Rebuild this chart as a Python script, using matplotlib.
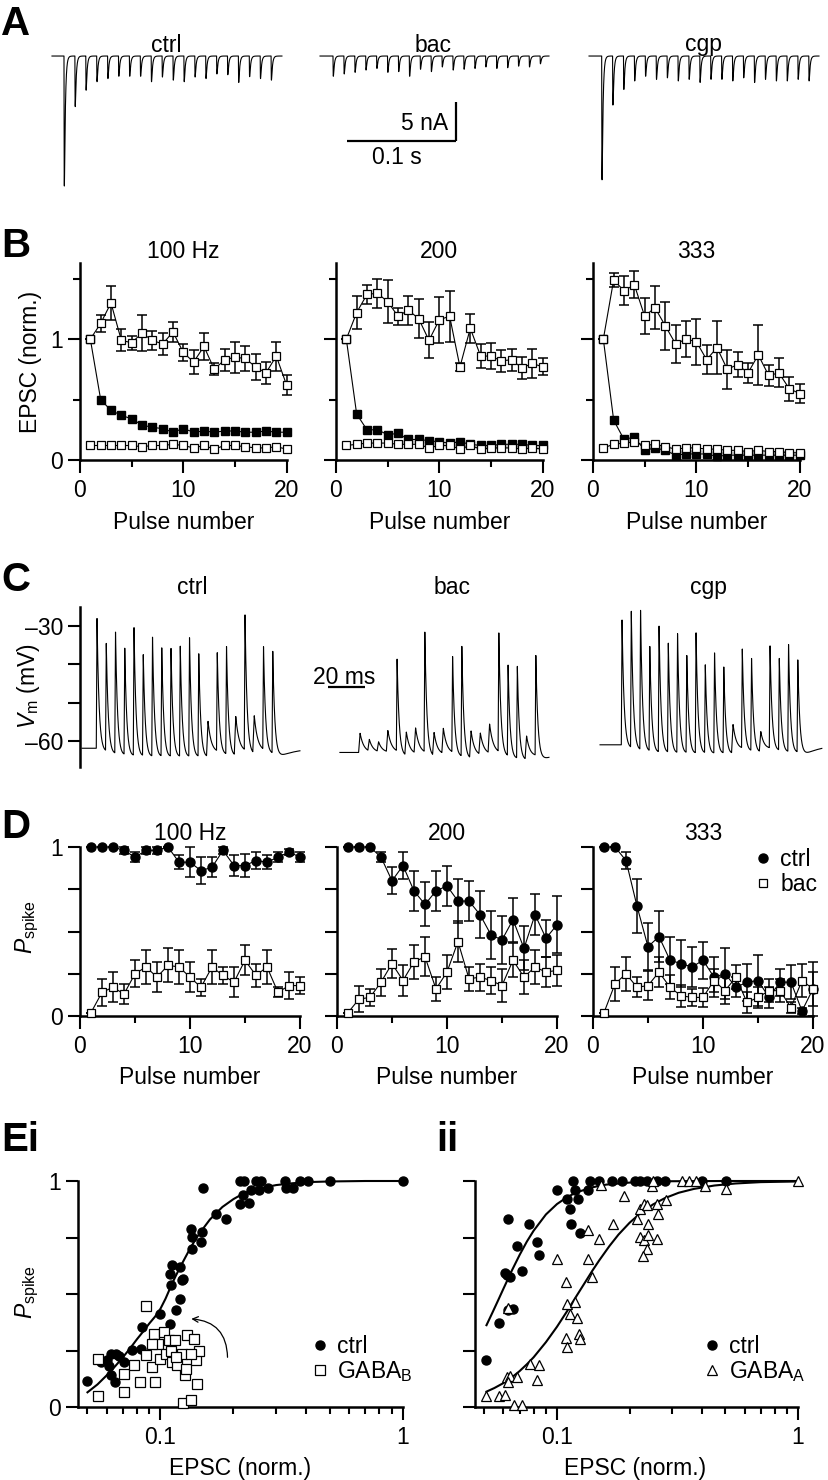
import numpy as np
import matplotlib
matplotlib.use('Agg')
import matplotlib.pyplot as plt
from matplotlib.lines import Line2D
from matplotlib.ticker import NullFormatter

W, H = 829, 1480
FS = 16.5
plt.rcParams['font.family'] = ['Liberation Sans', 'DejaVu Sans']
plt.rcParams['mathtext.fontset'] = 'custom'
plt.rcParams['mathtext.rm'] = 'Liberation Sans'
plt.rcParams['mathtext.it'] = 'Liberation Sans:italic'
plt.rcParams['font.size'] = FS

# ---------------- data ----------------
PULSES = np.arange(1, 21)

# A: EPSC peak amplitudes (nA)
A_CTRL = [16.7, 6.5, 4.4, 3.3, 2.9, 2.6, 2.6, 2.6, 3.3, 2.7, 3.1, 3.3, 2.7, 2.9, 2.3, 2.4, 3.4, 2.65, 2.9, 3.1]
A_BAC = [2.6, 2.3, 2.1, 1.8, 1.6, 2.1, 2.0, 2.6, 1.7, 2.0, 1.4, 1.8, 1.7, 1.6, 1.4, 1.6, 1.5, 1.3, 1.4, 1.0]
A_CGP = [15.9, 6.3, 4.3, 3.2, 2.6, 3.0, 2.8, 3.2, 3.0, 3.4, 3.0, 3.0, 3.2, 2.8, 3.4, 3.0, 3.2, 3.2, 3.0, 3.2]
A_TITLES = ['ctrl', 'bac', 'cgp']

# B: normalised EPSC
B_TITLES = ['100 Hz', '200', '333']
B100_UP = [1.00, 1.13, 1.30, 0.99, 0.97, 1.05, 0.99, 0.96, 1.06, 0.89, 0.81, 0.94, 0.75, 0.83, 0.85, 0.84, 0.77, 0.72, 0.86, 0.62]
B100_UP_ERR = [0, 0.07, 0.14, 0.09, 0.06, 0.15, 0.08, 0.09, 0.08, 0.07, 0.10, 0.11, 0.05, 0.09, 0.13, 0.10, 0.11, 0.09, 0.12, 0.08]
B100_FILL = [1.0, 0.50, 0.41, 0.37, 0.34, 0.29, 0.27, 0.26, 0.23, 0.26, 0.23, 0.24, 0.23, 0.24, 0.24, 0.23, 0.23, 0.24, 0.23, 0.23]
B100_LOW = [0.12, 0.12, 0.12, 0.12, 0.12, 0.11, 0.12, 0.12, 0.13, 0.12, 0.10, 0.12, 0.09, 0.12, 0.12, 0.11, 0.10, 0.10, 0.11, 0.09]
B200_UP = [1.00, 1.22, 1.37, 1.38, 1.31, 1.19, 1.24, 1.17, 0.99, 1.16, 1.19, 0.77, 1.09, 0.86, 0.86, 0.82, 0.83, 0.76, 0.80, 0.77]
B200_UP_ERR = [0, 0.14, 0.08, 0.12, 0.18, 0.07, 0.12, 0.16, 0.15, 0.19, 0.21, 0.03, 0.12, 0.10, 0.11, 0.09, 0.09, 0.09, 0.12, 0.07]
B200_FILL = [1.0, 0.38, 0.25, 0.25, 0.21, 0.22, 0.17, 0.17, 0.16, 0.15, 0.14, 0.15, 0.13, 0.12, 0.12, 0.13, 0.13, 0.13, 0.12, 0.12]
B200_LOW = [0.12, 0.13, 0.14, 0.14, 0.14, 0.13, 0.13, 0.13, 0.10, 0.12, 0.12, 0.09, 0.12, 0.09, 0.10, 0.10, 0.10, 0.09, 0.10, 0.09]
B333_UP = [1.00, 1.49, 1.40, 1.45, 1.19, 1.26, 1.11, 0.96, 1.00, 0.98, 0.83, 0.93, 0.75, 0.79, 0.72, 0.87, 0.70, 0.72, 0.59, 0.55]
B333_UP_ERR = [0, 0.06, 0.12, 0.11, 0.15, 0.18, 0.20, 0.16, 0.15, 0.19, 0.12, 0.22, 0.16, 0.10, 0.08, 0.25, 0.09, 0.12, 0.10, 0.08]
B333_FILL = [1.0, 0.33, 0.17, 0.19, 0.08, 0.10, 0.08, 0.04, 0.05, 0.05, 0.05, 0.03, 0.04, 0.04, 0.04, 0.04, 0.04, 0.04, 0.04, 0.04]
B333_LOW = [0.10, 0.13, 0.14, 0.15, 0.12, 0.13, 0.11, 0.09, 0.10, 0.10, 0.09, 0.09, 0.08, 0.08, 0.07, 0.08, 0.07, 0.07, 0.06, 0.06]

# C: membrane potential peaks per stimulus (mV)
C_CTRL = [-28.0, -33.9, -30.3, -34.2, -28.6, -35.6, -30.9, -33.7, -33.8, -33.2, -31.0, -35.2, -52.8, -36.3, -33.9, -51.9, -26.7, -52.2, -35.2, -35.4]
C_BAC = [-58.0, -60.0, -60.5, -57.5, -39.1, -57.0, -56.5, -31.8, -57.0, -56.5, -38.1, -34.4, -56.0, -57.5, -55.5, -32.1, -39.4, -39.1, -57.0, -37.0]
C_CGP = [-28.4, -25.5, -24.7, -33.8, -28.2, -32.6, -30.0, -35.7, -29.7, -38.1, -34.9, -38.6, -53.6, -35.2, -37.0, -55.8, -34.4, -37.1, -33.1, -37.0]
C_REST = [-61.9, -63.0, -61.0]

# D: spike probability
D_TITLES = ['100 Hz', '200', '333']
D100_CTRL = [1, 1, 1, 0.98, 0.94, 0.98, 0.98, 1.0, 0.91, 0.91, 0.86, 0.88, 0.98, 0.89, 0.89, 0.92, 0.91, 0.94, 0.97, 0.94]
D100_CTRL_ERR = [0, 0, 0, 0.02, 0.03, 0.02, 0.02, 0, 0.04, 0.09, 0.08, 0.06, 0.02, 0.06, 0.07, 0.05, 0.04, 0.03, 0.02, 0.03]
D100_BAC = [0.02, 0.14, 0.17, 0.13, 0.25, 0.29, 0.23, 0.30, 0.29, 0.23, 0.17, 0.29, 0.24, 0.20, 0.33, 0.24, 0.29, 0.14, 0.18, 0.18]
D100_BAC_ERR = [0, 0.08, 0.09, 0.06, 0.08, 0.10, 0.09, 0.10, 0.10, 0.09, 0.05, 0.10, 0.05, 0.09, 0.09, 0.07, 0.10, 0.03, 0.08, 0.05]
D200_CTRL = [1, 1, 1, 0.94, 0.80, 0.89, 0.74, 0.66, 0.74, 0.77, 0.68, 0.68, 0.60, 0.48, 0.45, 0.57, 0.40, 0.60, 0.46, 0.54]
D200_CTRL_ERR = [0, 0, 0, 0.03, 0.08, 0.08, 0.12, 0.13, 0.12, 0.12, 0.13, 0.12, 0.14, 0.14, 0.14, 0.13, 0.13, 0.12, 0.11, 0.17]
D200_BAC = [0.02, 0.10, 0.11, 0.20, 0.31, 0.21, 0.32, 0.35, 0.16, 0.26, 0.44, 0.22, 0.23, 0.21, 0.18, 0.33, 0.23, 0.29, 0.26, 0.27]
D200_BAC_ERR = [0, 0.075, 0.05, 0.08, 0.085, 0.09, 0.10, 0.115, 0.07, 0.10, 0.12, 0.07, 0.08, 0.08, 0.10, 0.10, 0.10, 0.10, 0.09, 0.09]
D333_CTRL = [1, 1, 0.92, 0.65, 0.41, 0.47, 0.33, 0.31, 0.29, 0.33, 0.23, 0.25, 0.17, 0.20, 0.21, 0.11, 0.20, 0.20, 0.03, 0.16]
D333_CTRL_ERR = [0, 0, 0.05, 0.16, 0.14, 0.15, 0.14, 0.14, 0.12, 0.11, 0.12, 0.15, 0.06, 0.11, 0.15, 0.06, 0.08, 0.10, 0.02, 0.16]
D333_BAC = [0.02, 0.19, 0.25, 0.17, 0.18, 0.26, 0.17, 0.12, 0.11, 0.11, 0.21, 0.15, 0.23, 0.08, 0.11, 0.15, 0.15, 0.05, 0.21, 0.16]
D333_BAC_ERR = [0, 0.10, 0.10, 0.06, 0.085, 0.09, 0.07, 0.065, 0.05, 0.055, 0.07, 0.08, 0.07, 0.06, 0.06, 0.07, 0.07, 0.03, 0.10, 0.10]

# E: P_spike vs EPSC
EI_CTRL_X = [0.050, 0.057, 0.060, 0.0625, 0.0656, 0.0677, 0.0612, 0.0625, 0.0652, 0.071, 0.0764, 0.083, 0.084, 0.0997,
             0.109, 0.116, 0.111, 0.120, 0.123, 0.109, 0.112, 0.120, 0.124, 0.135, 0.135, 0.133, 0.147, 0.148, 0.150,
             0.170, 0.186, 0.213, 0.232, 0.219, 0.222, 0.247, 0.256, 0.237, 0.278, 0.325, 0.352, 0.375, 0.406, 0.50,
             1.0, 0.212, 0.260, 0.330]
EI_CTRL_Y = [0.115, 0.20, 0.206, 0.233, 0.233, 0.224, 0.18, 0.14, 0.11, 0.20, 0.254, 0.258, 0.354, 0.413,
             0.369, 0.431, 0.538, 0.479, 0.560, 0.590, 0.627, 0.619, 0.568, 0.70, 0.752, 0.789, 0.730, 0.774, 0.970,
             0.855, 0.833, 0.90, 0.903, 0.937, 1.0, 1.0, 0.959, 0.959, 0.970, 1.0, 0.970, 1.0, 1.0, 1.0,
             1.0, 1.0, 1.0, 0.97]
EI_GABAB_X = [0.087, 0.0551, 0.0551, 0.071, 0.071, 0.078, 0.082, 0.087, 0.092, 0.094, 0.095, 0.098, 0.0997, 0.103,
              0.105, 0.108, 0.111, 0.112, 0.115, 0.117, 0.123, 0.124, 0.126, 0.127, 0.129, 0.133, 0.137, 0.140,
              0.141, 0.144, 0.133, 0.092, 0.116]
EI_GABAB_Y = [0.445, 0.214, 0.05, 0.066, 0.147, 0.184, 0.11, 0.228, 0.177, 0.324, 0.11, 0.28, 0.214, 0.33,
              0.236, 0.295, 0.25, 0.20, 0.295, 0.184, 0.233, 0.018, 0.14, 0.17, 0.317, 0.032, 0.302, 0.206,
              0.10, 0.248, 0.236, 0.28, 0.221]
EI_FIT_X = [0.05, 0.055, 0.06, 0.065, 0.07, 0.075, 0.08, 0.085, 0.09, 0.095, 0.1, 0.105, 0.11, 0.115, 0.12, 0.13,
            0.14, 0.15, 0.16, 0.18, 0.2, 0.22, 0.25, 0.3, 0.35, 0.4, 0.5, 0.7, 1.0]
EI_FIT_Y = [0.065, 0.10, 0.14, 0.18, 0.22, 0.26, 0.30, 0.335, 0.37, 0.40, 0.435, 0.48, 0.53, 0.575, 0.615, 0.685,
            0.745, 0.79, 0.83, 0.885, 0.92, 0.945, 0.965, 0.982, 0.99, 0.995, 0.998, 1.0, 1.0]

EII_CTRL_X = [0.051, 0.0574, 0.0625, 0.061, 0.062, 0.064, 0.0625, 0.068, 0.0717, 0.0764, 0.083, 0.0839, 0.066,
              0.100, 0.110, 0.113, 0.114, 0.117, 0.119, 0.122, 0.125, 0.135, 0.137, 0.150, 0.169, 0.186, 0.211,
              0.221, 0.236, 0.259, 0.281, 0.40, 0.505]
EII_CTRL_Y = [0.206, 0.372, 0.428, 0.593, 0.583, 0.575, 0.833, 0.711, 0.602, 0.811, 0.73, 0.671, 0.435,
              0.959, 0.922, 0.878, 0.811, 1.0, 0.959, 0.922, 0.77, 0.959, 1.0, 1.0, 1.0, 1.0, 1.0,
              1.0, 1.0, 1.0, 1.0, 1.0, 1.0]
EII_GABAA_X = [0.051, 0.0574, 0.061, 0.0662, 0.0717, 0.0621, 0.064, 0.068, 0.0625, 0.0776, 0.084, 0.083, 0.0625,
               0.100, 0.109, 0.110, 0.113, 0.119, 0.121, 0.109, 0.110, 0.123, 0.125, 0.135, 0.135, 0.140, 0.150,
               0.171, 0.189, 0.153, 0.214, 0.221, 0.229, 0.236, 0.239, 0.220, 0.229, 0.239, 0.236, 0.227, 0.259,
               0.263, 0.261, 0.283, 0.249, 0.251, 0.329, 0.354, 0.379, 0.410, 0.505, 1.0]
EII_GABAA_Y = [0.047, 0.047, 0.052, 0.007, 0.007, 0.133, 0.136, 0.133, 0.11, 0.189, 0.184, 0.121, 0.438,
               0.656, 0.553, 0.454, 0.413, 0.465, 0.395, 0.307, 0.265, 0.324, 0.302, 0.785, 0.656, 0.575, 0.745,
               0.808, 0.932, 0.981, 0.833, 0.878, 0.90, 0.892, 0.811, 0.752, 0.737, 0.76, 0.70, 0.667, 0.745,
               0.855, 0.897, 0.917, 0.976, 1.0, 1.0, 1.0, 1.0, 0.976, 0.966, 1.0]
EII_CTRL_FIT_X = [0.051, 0.054, 0.057, 0.06, 0.065, 0.07, 0.075, 0.08, 0.09, 0.1, 0.11, 0.12, 0.14, 0.16, 0.2,
                  0.25, 0.3, 0.5, 1.0]
EII_CTRL_FIT_Y = [0.362, 0.418, 0.472, 0.524, 0.604, 0.673, 0.732, 0.78, 0.852, 0.898, 0.928, 0.949, 0.972,
                  0.984, 0.993, 0.997, 0.999, 1.0, 1.0]
EII_GABAA_FIT_X = [0.051, 0.055, 0.06, 0.065, 0.07, 0.075, 0.08, 0.09, 0.1, 0.11, 0.12, 0.13, 0.14, 0.15, 0.165,
                   0.18, 0.2, 0.22, 0.25, 0.28, 0.32, 0.37, 0.45, 0.55, 0.7, 1.0]
EII_GABAA_FIT_Y = [0.068, 0.084, 0.106, 0.131, 0.159, 0.189, 0.22, 0.287, 0.355, 0.423, 0.488, 0.547, 0.602,
                   0.65, 0.712, 0.763, 0.815, 0.854, 0.896, 0.924, 0.948, 0.965, 0.98, 0.989, 0.995, 0.998]

# ---------------- helpers ----------------
fig = plt.figure(figsize=(W / 100, H / 100), dpi=100)


def box(l, t, r, b):
    return [l / W, 1 - b / H, (r - l) / W, (b - t) / H]


def ftext(x, y, s, **kw):
    kw.setdefault('ha', 'center')
    kw.setdefault('va', 'center')
    fig.text(x / W, 1 - y / H, s, **kw)


def letter(x, y, s):
    fig.text(x / W, 1 - y / H, s, fontsize=29, fontweight='bold', ha='left', va='center')


def style(ax):
    for s in ['top', 'right']:
        ax.spines[s].set_visible(False)
    for s in ['left', 'bottom']:
        ax.spines[s].set_linewidth(1.8)
    ax.tick_params(which='major', direction='out', length=9, width=1.5, labelsize=FS)
    ax.tick_params(which='minor', direction='out', length=5, width=1.5)
    ax.tick_params(axis='x', pad=5)
    ax.tick_params(axis='y', pad=3)
    ax.patch.set_visible(False)


def epsc_trace(t0, t_first, t_end, amps, isi=10.0):
    t = np.arange(t0, t_end, 0.05)
    i = np.zeros_like(t)
    tr, td = 0.15, 0.9
    tp = tr * td / (td - tr) * np.log(td / tr)
    norm = np.exp(-tp / td) - np.exp(-tp / tr)
    for k, a in enumerate(amps):
        s = np.clip(t - (t_first + k * isi), 0, None)
        i -= a * (np.exp(-s / td) - np.exp(-s / tr)) / norm
    return t, i


def vm_trace(t0, t_first, t_end, peaks, rest, isi=5.0):
    t = np.arange(t0, t_end, 0.02)
    v = np.full_like(t, rest)
    for k, p in enumerate(peaks):
        s = t - (t_first + k * isi)
        spike = p > -50
        tau = 1.1 if spike else 2.0
        rise = 0.4 if spike else 0.8
        kern = np.where(s < -rise, 0.0,
                        np.where(s < 0, (s + rise) / rise, np.exp(-np.clip(s, 0, None) / tau)))
        v += (p - rest) * kern
        if spike:
            ss = np.clip(s, 0, None)
            v -= 1.8 * (np.exp(-ss / 9.0) - np.exp(-ss / 1.5))
    return t, v


# ---------------- A ----------------
axA = fig.add_axes(box(0, 20, 829, 195))
axA.set_xlim(0, W / 1.09)
axA.set_ylim(-17.82, 4.62)
axA.axis('off')
for (t0, tf, te), amps in zip([(47.7, 58.7, 258.7), (293.6, 305.5, 503.7), (540.4, 552.0, 751.4)],
                              [A_CTRL, A_BAC, A_CGP]):
    t, i = epsc_trace(t0, tf, te, amps)
    axA.plot(t, i, color='k', lw=0.8)
axA.plot([318.3, 418.3], [-10.9, -10.9], color='k', lw=1.6, solid_capstyle='butt')
axA.plot([418.3, 418.3], [-10.9, -5.9], color='k', lw=1.6, solid_capstyle='butt')
axA.text(411, -8.6, '5 nA', ha='right', va='center')
axA.text(364, -12.95, '0.1 s', ha='center', va='center')
for x, s in zip([166, 433, 704], A_TITLES):
    ftext(x, 45, s)
letter(1, 24, 'A')

# ---------------- B ----------------
letter(1, 246, 'B')
B_UP = [B100_UP, B200_UP, B333_UP]
B_UP_ERR = [B100_UP_ERR, B200_UP_ERR, B333_UP_ERR]
B_FILL = [B100_FILL, B200_FILL, B333_FILL]
B_LOW = [B100_LOW, B200_LOW, B333_LOW]
for j, l in enumerate([80, 336, 593]):
    ax = fig.add_axes(box(l, 263, l + 20.5 * 10.33, 460))
    style(ax)
    ax.set_xlim(0, 20.5)
    ax.set_ylim(0, 1.63)
    ax.spines['bottom'].set_bounds(0, 20)
    ax.set_xticks([0, 10, 20])
    ax.set_xticks([5, 15], minor=True)
    ax.set_yticks([0, 1])
    ax.set_yticks([0.5, 1.5], minor=True)
    if j == 0:
        ax.set_yticklabels(['0', '1'])
    else:
        ax.set_yticklabels([])
    ax.plot(PULSES, B_FILL[j], '-s', color='k', ms=6, lw=0.8, zorder=3, clip_on=False)
    ax.plot(PULSES, B_LOW[j], '-s', color='k', mfc='w', mew=0.9, ms=6, lw=0.8, zorder=4, clip_on=False)
    ax.errorbar(PULSES, B_UP[j], yerr=B_UP_ERR[j], fmt='none', ecolor='k', elinewidth=1.1,
                capsize=3.5, capthick=1.1, zorder=4.5)
    ax.plot(PULSES, B_UP[j], '-s', color='k', mfc='w', mew=0.9, ms=6, lw=0.8, zorder=5, clip_on=False)
    cx = l + 10 * 10.33
    ftext(cx, 252, B_TITLES[j])
    ftext(cx, 522, 'Pulse number')
ftext(31, 362, 'EPSC (norm.)', rotation=90)

# ---------------- C ----------------
letter(1, 580, 'C')
axC = fig.add_axes(box(80, 607, 829, 767))
style(axC)
axC.spines['bottom'].set_visible(False)
axC.set_xlim(0, 749 / 1.85)
axC.set_ylim(-66.8, -25.0)
axC.set_xticks([])
axC.set_yticks([-60, -50, -40, -30])
axC.set_yticklabels(['\u201360', '', '', '\u201330'])
for (t0, tf, te), peaks, rest in zip([(1.1, 9.2, 118.9), (140.5, 151.4, 253.5), (281.1, 293.0, 401.0)],
                                     [C_CTRL, C_BAC, C_CGP], C_REST):
    t, v = vm_trace(t0, tf, te, peaks, rest)
    axC.plot(t, v, color='k', lw=0.8, clip_on=False)
axC.plot([134, 154], [-45.9, -45.9], color='k', lw=1.6, solid_capstyle='butt')
axC.text(143, -43.4, '20 ms', ha='center', va='center')
for x, s in zip([192, 452, 709], A_TITLES):
    ftext(x, 588, s)
ftext(29, 686, r'$V_\mathrm{m}$ (mV)', rotation=90)

# ---------------- D ----------------
letter(1, 827, 'D')
D_CTRL = [D100_CTRL, D200_CTRL, D333_CTRL]
D_CTRL_ERR = [D100_CTRL_ERR, D200_CTRL_ERR, D333_CTRL_ERR]
D_BAC = [D100_BAC, D200_BAC, D333_BAC]
D_BAC_ERR = [D100_BAC_ERR, D200_BAC_ERR, D333_BAC_ERR]
for j, l in enumerate([80, 337, 593]):
    ax = fig.add_axes(box(l, 847, l + 20.5 * 11, 1016))
    style(ax)
    ax.set_xlim(0, 20.5)
    ax.set_ylim(0, 1)
    ax.spines['bottom'].set_bounds(0, 20)
    ax.set_xticks([0, 10, 20])
    ax.set_xticks([5, 15], minor=True)
    ax.set_yticks([0, 0.25, 0.5, 0.75, 1])
    if j == 0:
        ax.set_yticklabels(['0', '', '', '', '1'])
    else:
        ax.set_yticklabels([])
    ax.errorbar(PULSES, D_CTRL[j], yerr=D_CTRL_ERR[j], fmt='none', ecolor='k', elinewidth=1.1,
                capsize=3.5, capthick=1.1, zorder=2.5, clip_on=False)
    ax.plot(PULSES, D_CTRL[j], '-o', color='k', ms=6.5, lw=0.8, zorder=3, clip_on=False)
    ax.errorbar(PULSES, D_BAC[j], yerr=D_BAC_ERR[j], fmt='none', ecolor='k', elinewidth=1.1,
                capsize=3.5, capthick=1.1, zorder=3.5, clip_on=False)
    ax.plot(PULSES, D_BAC[j], '-s', color='k', mfc='w', mew=0.9, ms=6, lw=0.8, zorder=4, clip_on=False)
    cx = l + 10 * 11
    ftext(cx, 834, D_TITLES[j])
    ftext(cx, 1077, 'Pulse number')
    if j == 2:
        hd = [Line2D([], [], marker='o', ls='none', mfc='k', mec='k', ms=6.5),
              Line2D([], [], marker='s', ls='none', mfc='w', mec='k', mew=0.9, ms=6)]
        ax.legend(hd, ['ctrl', 'bac'], loc='upper left', bbox_to_anchor=(754 / W, 1 - 848 / H),
                  bbox_transform=fig.transFigure, frameon=False, handlelength=0.75,
                  handletextpad=0.4, borderpad=0, borderaxespad=0, labelspacing=0.1, fontsize=FS)
ftext(27, 927, r'$P_\mathrm{spike}$', rotation=90)

# ---------------- E ----------------
letter(1, 1140, 'Ei')
fig.text(436 / W, 1 - 1140 / H, 'ii', fontsize=29, fontweight='bold', ha='left', va='center')


def style_e(ax, first):
    style(ax)
    ax.set_xscale('log')
    ax.set_xlim(0.0457, 1.0)
    ax.set_ylim(0, 1)
    ax.set_xticks([0.1, 1])
    ax.set_xticklabels(['0.1', '1'])
    ax.set_xticks([0.05, 0.06, 0.07, 0.08, 0.09, 0.2, 0.3, 0.4, 0.5, 0.6, 0.7, 0.8, 0.9], minor=True)
    ax.xaxis.set_minor_formatter(NullFormatter())
    ax.set_yticks([0, 0.25, 0.5, 0.75, 1])
    ax.set_yticklabels(['0', '', '', '', '1'] if first else [])


axEi = fig.add_axes(box(78, 1181, 403, 1407))
style_e(axEi, True)
axEi.plot(EI_FIT_X, EI_FIT_Y, color='k', lw=1.5, zorder=2, clip_on=False)
axEi.plot(EI_CTRL_X, EI_CTRL_Y, 'o', color='k', ms=6.5, zorder=3, clip_on=False)
axEi.plot(EI_GABAB_X, EI_GABAB_Y, 's', mfc='w', mec='k', mew=0.9, ms=6.5, zorder=4, clip_on=False)
axEi.annotate('', xy=(0.134, 0.39), xytext=(0.189, 0.22),
              arrowprops=dict(arrowstyle='->', color='k', lw=0.9, connectionstyle='arc3,rad=0.45',
                              shrinkA=0, shrinkB=0, mutation_scale=10))
hd = [Line2D([], [], marker='o', ls='none', mfc='k', mec='k', ms=6.5),
      Line2D([], [], marker='s', ls='none', mfc='w', mec='k', mew=0.9, ms=6.5)]
axEi.legend(hd, ['ctrl', r'GABA$_\mathrm{B}$'], loc='upper left', bbox_to_anchor=(311 / W, 1 - 1335 / H),
            bbox_transform=fig.transFigure, frameon=False, handlelength=0.75,
            handletextpad=0.4, borderpad=0, borderaxespad=0, labelspacing=0.05, fontsize=FS)
ftext(240, 1468, 'EPSC (norm.)')
ftext(27, 1292, r'$P_\mathrm{spike}$', rotation=90)

axEii = fig.add_axes(box(475, 1181, 798, 1407))
style_e(axEii, False)
axEii.plot(EII_CTRL_FIT_X, EII_CTRL_FIT_Y, color='k', lw=1.5, zorder=2, clip_on=False)
axEii.plot(EII_GABAA_FIT_X, EII_GABAA_FIT_Y, color='k', lw=1.5, zorder=2, clip_on=False)
axEii.plot(EII_CTRL_X, EII_CTRL_Y, 'o', color='k', ms=6.5, zorder=3, clip_on=False)
axEii.plot(EII_GABAA_X, EII_GABAA_Y, '^', mfc='w', mec='k', mew=0.9, ms=7.5, zorder=4, clip_on=False)
hd = [Line2D([], [], marker='o', ls='none', mfc='k', mec='k', ms=6.5),
      Line2D([], [], marker='^', ls='none', mfc='w', mec='k', mew=0.9, ms=7.5)]
axEii.legend(hd, ['ctrl', r'GABA$_\mathrm{A}$'], loc='upper left', bbox_to_anchor=(703 / W, 1 - 1335 / H),
             bbox_transform=fig.transFigure, frameon=False, handlelength=0.75,
             handletextpad=0.4, borderpad=0, borderaxespad=0, labelspacing=0.05, fontsize=FS)
ftext(635, 1468, 'EPSC (norm.)')

fig.savefig('out.png', dpi=100)
